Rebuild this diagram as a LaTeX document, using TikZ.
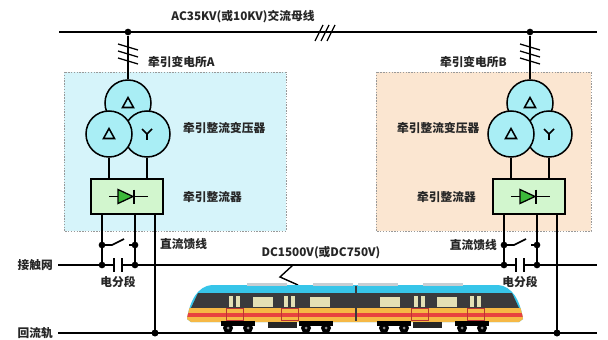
\documentclass[tikz,border=0pt]{standalone}
\usepackage{fontspec}
\newfontfamily\cjk{Noto Sans CJK SC}
\usetikzlibrary{positioning,calc}

\definecolor{substA}{HTML}{D6F4FA}
\definecolor{substB}{HTML}{FBE6D1}
\definecolor{coilfill}{HTML}{A9EEF5}
\definecolor{rectfill}{HTML}{D2F6CE}
\definecolor{diodegreen}{HTML}{3CB93A}
\definecolor{traincyan}{HTML}{37C5E9}
\definecolor{trainband}{HTML}{3A3A3C}
\definecolor{trainyellow}{HTML}{F6B845}
\definecolor{trainred}{HTML}{E8433F}
\definecolor{trainglass}{HTML}{E4E0B4}
\definecolor{roofgrey}{HTML}{C8CED3}

\begin{document}
\begin{tikzpicture}[x=0.03cm,y=-0.03cm,
    wire/.style={line width=1.4pt},
    jdot/.style={circle,fill=black,inner sep=0pt,minimum size=0.2cm},
    coil/.style={circle,draw,line width=1.3pt,fill=coilfill,minimum size=1.38cm,inner sep=0pt},
    rectifier/.style={rectangle,draw,line width=1.3pt,fill=rectfill,minimum width=2.16cm,minimum height=1.05cm},
    lbl/.style={font={\cjk\bfseries\fontsize{10}{12}\selectfont},text=black!85,inner sep=0pt},
    substation/.style={draw=black!40,dash pattern=on 1.2pt off 1.2pt,line width=0.6pt},
    hatch/.style={line width=1.1pt},
    sym/.style={line width=1.3pt,line join=miter}]
\useasboundingbox (0,0) rectangle (608,340);
\fill[white] (0,0) rectangle (608,340);

% substation areas
\draw[substation,fill=substA] (64,72) rectangle (286,231);
\draw[substation,fill=substB] (376,72) rectangle (591,231);

% AC bus
\coordinate (bwest) at (59,32);
\coordinate (beast) at (597,32);
\draw[wire] (bwest) -- (beast);
\foreach \i in {0,1,2}
  \draw[hatch] (315+6*\i,41) -- ++(8,-16);
\node[lbl] (bustext) at (243,17) {AC35KV(或10KV)交流母线};

% two substations, B is A moved right
\foreach \s/\dx in {A/0,B/402}{
\begin{scope}[shift={(\dx,0)}]
  \node[jdot] (bus\s) at (128,32) {};
  \node[coil] (pri\s) at (128,103) {};
  \node[coil] (secy\s) at (147,134) {};
  \node[coil] (secd\s) at (109,134) {};
  \draw[wire] (bus\s) -- (pri\s.north);
  \foreach \h in {44,51,58}
    \draw[hatch] (118,\h) -- ++(20,6);
  % winding symbols
  \draw[sym] (pri\s.center) ++(-5.5,4.5) -- ++(11,0) -- ++(-5.5,-10) -- cycle;
  \draw[sym] (secd\s.center) ++(-5.5,4.5) -- ++(11,0) -- ++(-5.5,-10) -- cycle;
  \draw[sym] (secy\s.center) ++(-5,-5) -- ++(5,5) -- ++(5,-5);
  \draw[sym] (secy\s.center) -- ++(0,6);
  % rectifier
  \node[rectifier] (rect\s) at (127,196.5) {};
  \draw[wire] (secd\s.south) -- (secd\s.south |- rect\s.north);
  \draw[wire] (secy\s.south) -- (secy\s.south |- rect\s.north);
  \draw[line width=1.1pt] (rect\s.center) ++(-18,0) -- ++(39,0);
  \filldraw[fill=diodegreen,line width=1.1pt,line join=miter]
    (rect\s.center) ++(-9,-7) -- ++(15,7) -- ++(-15,7) -- cycle;
  \draw[line width=1.5pt] (rect\s.center) ++(7,-7) -- ++(0,14);
  % feeders, switch and section insulator
  \coordinate (swL\s) at (102,245);
  \coordinate (swR\s) at (135,245);
  \coordinate (cL\s) at (102,265);
  \coordinate (cR\s) at (135,265);
  \coordinate (gapL\s) at (114,265);
  \coordinate (gapR\s) at (122,265);
  \coordinate (ret\s) at (155,333);
  \draw[wire] (rect\s.south -| swL\s) -- (cL\s);
  \draw[wire] (rect\s.south -| swR\s) -- (cR\s);
  \draw[wire] (rect\s.south -| ret\s) -- (ret\s);
  \draw[wire] (swL\s) -- ++(10,0) -- ++(12,-6);
  \draw[wire] (swR\s) -- ++(-6,0);
  \draw[wire] (gapL\s) ++(0,-7) -- ++(0,14);
  \draw[wire] (gapR\s) ++(0,-7) -- ++(0,14);
  \draw[wire] (cL\s) -- (gapL\s);
  \foreach \p in {swL\s,swR\s,cL\s,cR\s,ret\s}
    \node[jdot] at (\p) {};
\end{scope}
}

% contact line and return rail
\coordinate (cwest) at (58,265);
\coordinate (ceast) at (597,265);
\draw[wire] (cwest) -- (gapLA);
\draw[wire] (gapRA) -- (gapLB);
\draw[wire] (gapRB) -- (ceast);
\coordinate (rwest) at (58,333);
\coordinate (reast) at (597,333);
\draw[wire] (rwest) -- (reast);
\node[jdot] at (retA) {};
\node[jdot] at (retB) {};

% labels
\node[lbl,anchor=west] (nameA) at (148,62) {牵引变电所A};
\node[lbl,anchor=east] (nameB) at (507,62) {牵引变电所B};
\node[lbl,anchor=west] (trA) at (183,128) {牵引整流变压器};
\node[lbl,anchor=west] (trB) at (397,128) {牵引整流变压器};
\node[lbl,anchor=west] (rcA) at (183,197) {牵引整流器};
\node[lbl,anchor=west] (rcB) at (417,197) {牵引整流器};
\node[lbl,anchor=west] (fdA) at (160,244) {直流馈线};
\node[lbl,anchor=east] (fdB) at (497,245) {直流馈线};
\node[lbl] (secA) at (118,282) {电分段};
\node[lbl] (secB) at (520,282) {电分段};
\node[lbl,anchor=east] (cat) at (53,265) {接触网};
\node[lbl,anchor=east] (rail) at (53,333) {回流轨};
\node[lbl] (dcv) at (321,253) {DC1500V(或DC750V)};

% pantograph
\coordinate (pan) at (293,265);
\coordinate (roof) at (298,285);
\draw[line width=1.2pt,line join=miter] (pan) -- (280,277) -- (roof);

% train body
\begin{scope}
  \clip (212,285) -- (498,285) .. controls (512,286) and (520,300) .. (523,319)
    -- (519,322) -- (191,322) -- (187,319) .. controls (190,300) and (198,286) .. (212,285) -- cycle;
  \fill[traincyan] (180,280) rectangle (530,325);
  \fill[trainband] (198,293) -- (512,293) -- (519,308) -- (191,308) -- cycle;
  \fill[trainyellow] (180,308) rectangle (530,325);
  \fill[trainred] (180,313) rectangle (530,317);
\end{scope}
\draw[trainband,line width=1.3pt] (356,286) -- (356,321);
% roof equipment
\foreach \a in {247,313,358,423}
  \fill[roofgrey] (\a,283) rectangle ++(40,3);
% windows and doors
\foreach \a in {253,310,380,437}
  \fill[trainglass] (\a,297) rectangle ++(20,10);
\foreach \a in {229,284,414,470}{
  \fill[trainglass] (\a,296) rectangle ++(4,11);
  \fill[trainglass] (\a+7,296) rectangle ++(4,11);
  \draw[trainred!80!black,line width=0.3pt] (\a-3,308) rectangle ++(17,12);
}
% bogies and underframe
\foreach \c in {238,316,394,472}{
  \fill[black] (\c-17,321) rectangle (\c+17,326);
  \fill[black] (\c-10,328) circle (5);
  \fill[black] (\c+10,328) circle (5);
  \fill[black!45] (\c-10,328) circle (1.5);
  \fill[black!45] (\c+10,328) circle (1.5);
}
\fill[black!85] (268,322) rectangle (297,328);
\fill[black!85] (413,322) rectangle (442,328);
\end{tikzpicture}
\end{document}
